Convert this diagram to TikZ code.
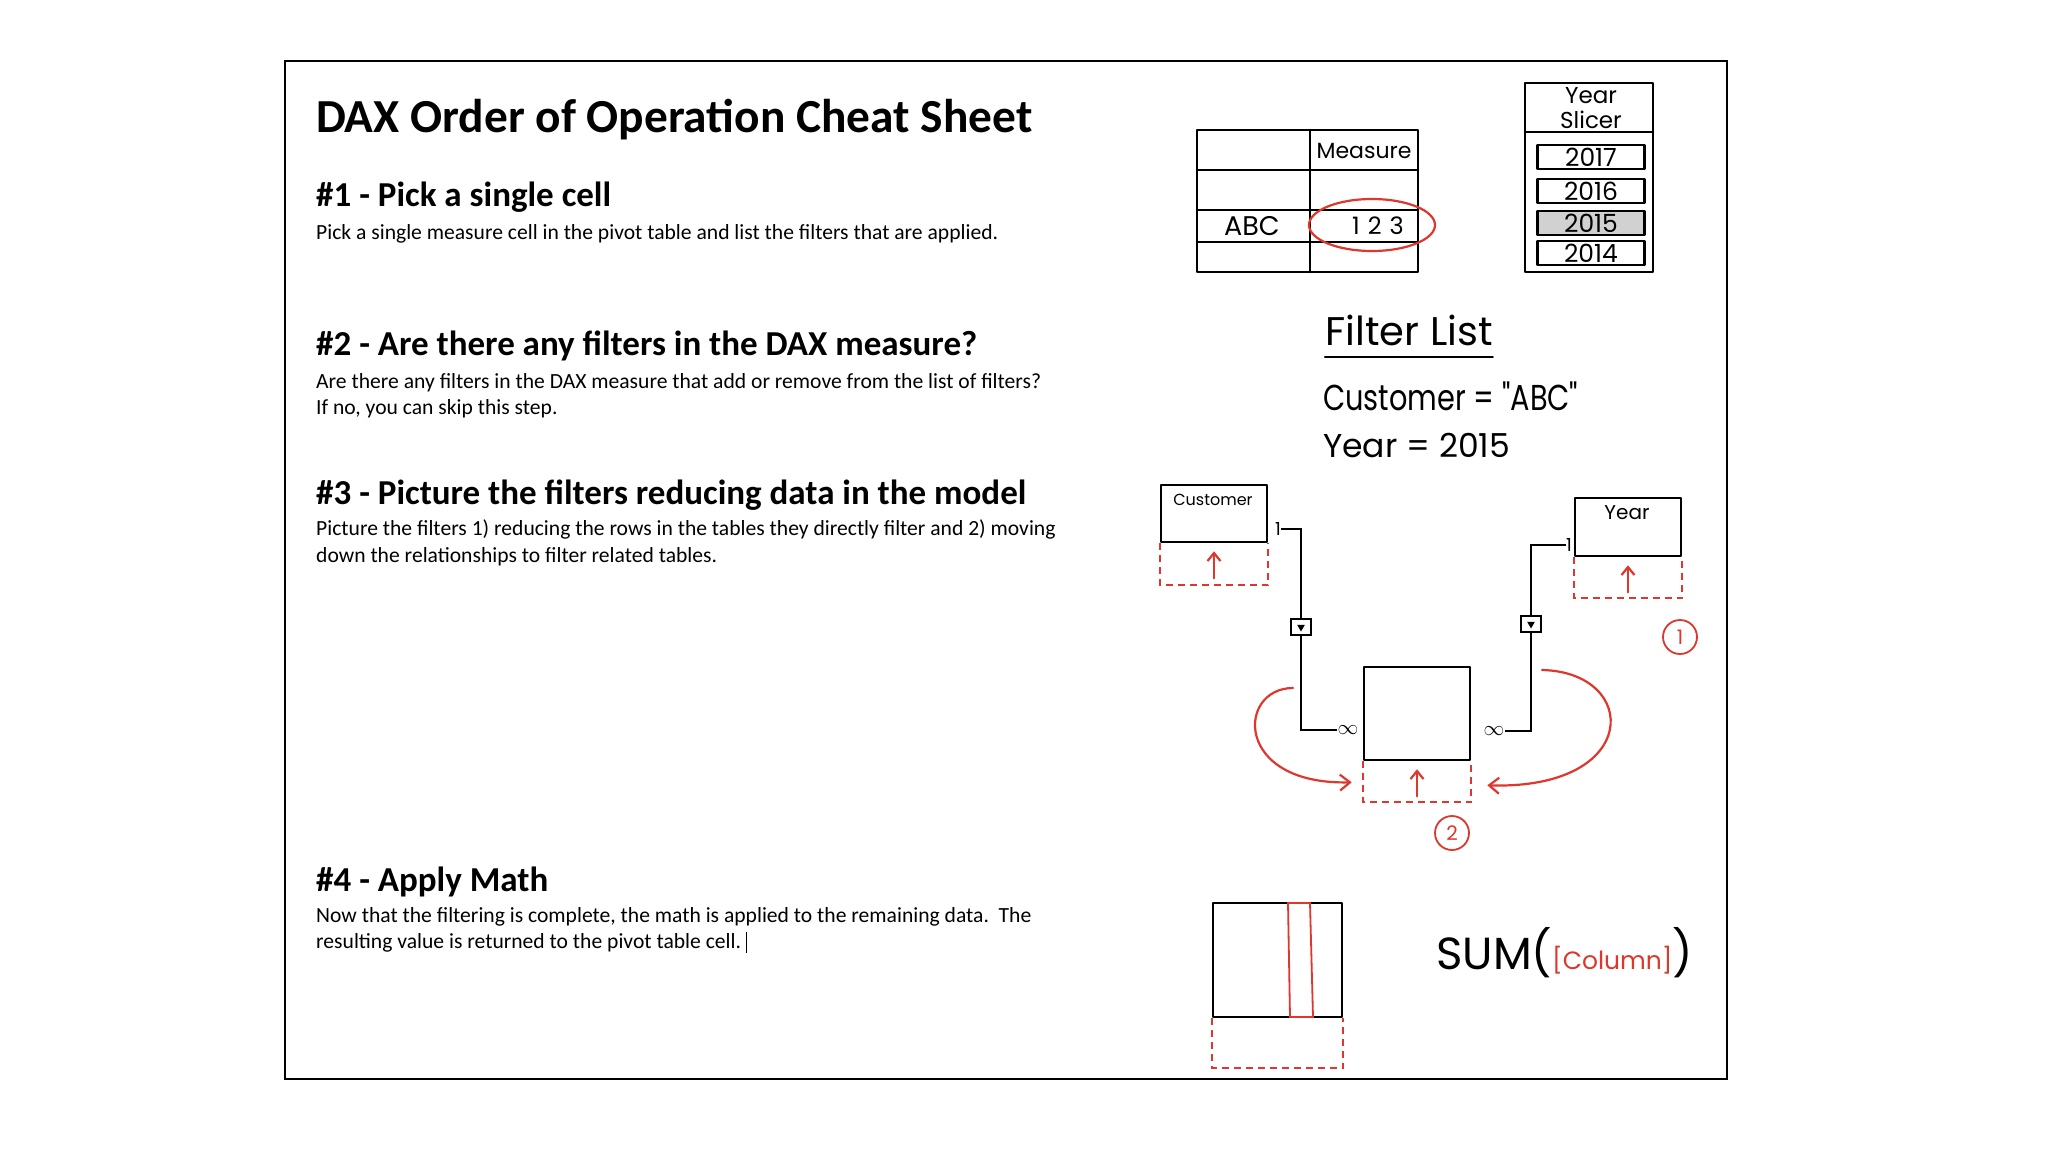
\documentclass[tikz,border=0pt]{standalone}
\usepackage{fontspec}
\setmainfont{Carlito}
\newfontfamily\handfont{Poppins}
\newfontfamily\handnarrow[FakeStretch=0.8]{Poppins}
\usetikzlibrary{arrows.meta,shapes.geometric}
\definecolor{penred}{RGB}{222,55,45}

\tikzset{
  pen/.style={line width=2.6pt, line cap=round, line join=round},
  redpen/.style={line width=2.2pt, draw=penred, line cap=round},
  shadowline/.style={draw=penred, line width=2.2pt, dash pattern=on 7pt off 5pt},
  tablebox/.style={pen, draw, rectangle, inner sep=0pt},
  uparrow/.style={redpen, -{Straight Barb[length=8pt,width=13pt]}},
  stepnum/.style={circle, draw=penred, line width=1.8pt, minimum size=34pt, inner sep=0pt,
    text=penred, font=\handfont\fontsize{20}{20}\selectfont},
  heading/.style={anchor=base west, inner sep=0pt, font=\bfseries\fontsize{35}{40}\selectfont},
  bodytext/.style={anchor=base west, inner sep=0pt, font=\fontsize{21.6}{26}\selectfont},
  hand/.style={font=\handfont\fontsize{#1}{#1}\selectfont, inner sep=0pt},
  yearbtn/.style={pen, draw, minimum width=107pt, minimum height=24pt, inner sep=0pt, hand=25},
  filtermark/.style={draw, line width=1.8pt, fill=white, minimum width=20pt, minimum height=16pt, inner sep=0pt},
}

\begin{document}
\begin{tikzpicture}[x=1pt, y=-1pt, >=Stealth]
  \useasboundingbox (0,0) rectangle (2048,1152);
  \fill[white] (0,0) rectangle (2048,1152);
  \draw[line width=1.4pt] (285,61) rectangle (1727,1079);

  % left column: the four steps
  \node[heading, font=\bfseries\fontsize{47.4}{52}\selectfont] (title) at (316,132) {DAX Order of Operation Cheat Sheet};

  \node[heading] (h1) at (316,206) {\#1 - Pick a single cell};
  \node[bodytext] (b1) at (316,239) {Pick a single measure cell in the pivot table and list the filters that are applied.};

  \node[heading] (h2) at (316,355) {\#2 - Are there any filters in the DAX measure?};
  \node[bodytext] (b2a) at (316,388) {Are there any filters in the DAX measure that add or remove from the list of filters?};
  \node[bodytext] (b2b) at (316,414) {If no, you can skip this step.};

  \node[heading] (h3) at (316,504) {\#3 - Picture the filters reducing data in the model};
  \node[bodytext] (b3a) at (316,535) {Picture the filters 1) reducing the rows in the tables they directly filter and 2) moving};
  \node[bodytext] (b3b) at (316,562) {down the relationships to filter related tables.};

  \node[heading] (h4) at (316,891) {\#4 - Apply Math};
  \node[bodytext] (b4a) at (316,922) {Now that the filtering is complete, the math is applied to the remaining data.\ \ The};
  \node[bodytext] (b4b) at (316,948) {resulting value is returned to the pivot table cell.};
  \draw[line width=1pt] ([xshift=5pt,yshift=-5pt]b4b.base east) -- ++(0,-21);

  % pivot table
  \draw[pen] (1197,130) rectangle (1418,272);
  \draw[pen] (1310,130) -- (1310,272);
  \draw[pen] (1197,170) -- (1418,170);
  \draw[pen] (1197,210) -- (1418,210);
  \draw[pen] (1197,242) -- (1418,242);
  \node[hand=22] (meas) at (1364,151) {Measure};
  \node[hand=27] (abc) at (1252,226) {ABC};
  \node[hand=24] (val) at (1378,226) {1\,\,2\,\,3};
  \draw[redpen] (1372,225) ellipse [x radius=63, y radius=26];

  % year slicer
  \draw[pen] (1525,83) rectangle (1653,272);
  \draw[pen] (1525,132) -- (1653,132);
  \node[hand=23, font=\handfont\fontsize{23}{25}\selectfont, align=center] (slicer) at (1591,108) {Year\\Slicer};
  \foreach \yr/\yy/\shade in {2017/157/white, 2016/191/white, 2015/223/black!18, 2014/253/white}
    \node[yearbtn, fill=\shade] (y\yr) at (1591,\yy) {\yr};

  % filter list
  \node[hand=40, anchor=base west] (flist) at (1325,345) {Filter List};
  \draw[pen, line width=2.2pt] ([yshift=-12pt]flist.base west) -- ([yshift=-12pt]flist.base east);
  \node[hand=36, font=\handnarrow\fontsize{36}{36}\selectfont, anchor=base west] (fcust) at (1323,410) {Customer = "ABC"};
  \node[hand=33, anchor=base west] (fyear) at (1323,457) {Year = 2015};

  % model: two lookup tables filtering the fact table
  \node[tablebox, minimum width=106pt, minimum height=57pt] (cust) at (1214,513.5) {};
  \node[hand=16] (custlbl) at (1213,500) {Customer};
  \draw[shadowline] (cust.south west) -- ++(0,42) -| (cust.south east);
  \draw[uparrow] ([yshift=-35pt]cust.south) -- ([yshift=-8pt]cust.south);

  \node[tablebox, minimum width=106pt, minimum height=58pt] (yr) at (1628,527) {};
  \node[hand=20] (yrlbl) at (1627,513) {Year};
  \draw[shadowline] (yr.south west) -- ++(0,41) -| (yr.south east);
  \draw[uparrow] ([yshift=-35pt]yr.south) -- ([yshift=-8pt]yr.south);

  \node[tablebox, minimum width=106pt, minimum height=93pt] (fact) at (1417,713.5) {};
  \draw[shadowline] (fact.south west) -- ++(0,41) -| (fact.south east);
  \draw[uparrow] ([yshift=-35pt]fact.south) -- ([yshift=-8pt]fact.south);

  % relationships
  \node[hand=18] (cone) at (1278,529) {1};
  \node[inner sep=0pt, font=\fontsize{20}{20}\selectfont] (cinf) at (1348,730) {$\infty$};
  \draw[line width=2pt] (cone.east) -- (1301,529) |- (cinf.west);
  \node[filtermark] (cmark) at (1301,627) {};
  \node[fill, regular polygon, regular polygon sides=3, shape border rotate=180, minimum size=9pt, inner sep=0pt] (carrow) at (cmark) {};

  \node[hand=18] (yone) at (1569,545) {1};
  \node[inner sep=0pt, font=\fontsize{20}{20}\selectfont] (yinf) at (1494,731) {$\infty$};
  \draw[line width=2pt] (yone.west) -- (1531,545) |- (yinf.east);
  \node[filtermark] (ymark) at (1531,624) {};
  \node[fill, regular polygon, regular polygon sides=3, shape border rotate=180, minimum size=9pt, inner sep=0pt] (yarrow) at (ymark) {};

  % filters moving down the relationships
  \coordinate (lstart) at (1293,688);
  \coordinate (rstart) at (1542,670);
  \draw[redpen, -{Straight Barb[length=10pt,width=16pt]}] (lstart) .. controls (1237,688) and (1233,785) .. ([xshift=-11pt,yshift=-21pt]fact.south west);
  \draw[redpen, -{Straight Barb[length=10pt,width=16pt]}] (rstart) .. controls (1640,672) and (1642,790) .. ([xshift=16pt,yshift=-24pt]fact.south east);

  \node[stepnum] (n1) at (1680,637) {1};
  \node[stepnum] (n2) at (1452,833) {2};

  % apply math
  \node[tablebox, minimum width=129pt, minimum height=114pt] (calc) at (1277.5,960) {};
  \draw[redpen, line width=1.8pt] (1288,903) -- (1290,1017) -- (1313,1017) -- (1310,903) -- cycle;
  \draw[shadowline] (calc.south west) -- ++(0,50) -| (calc.south east);
  \node[hand=45, anchor=west] (sumf) at (1436,953) {SUM(\textcolor{penred}{\fontsize{25}{25}\selectfont[Column]})};
\end{tikzpicture}
\end{document}
